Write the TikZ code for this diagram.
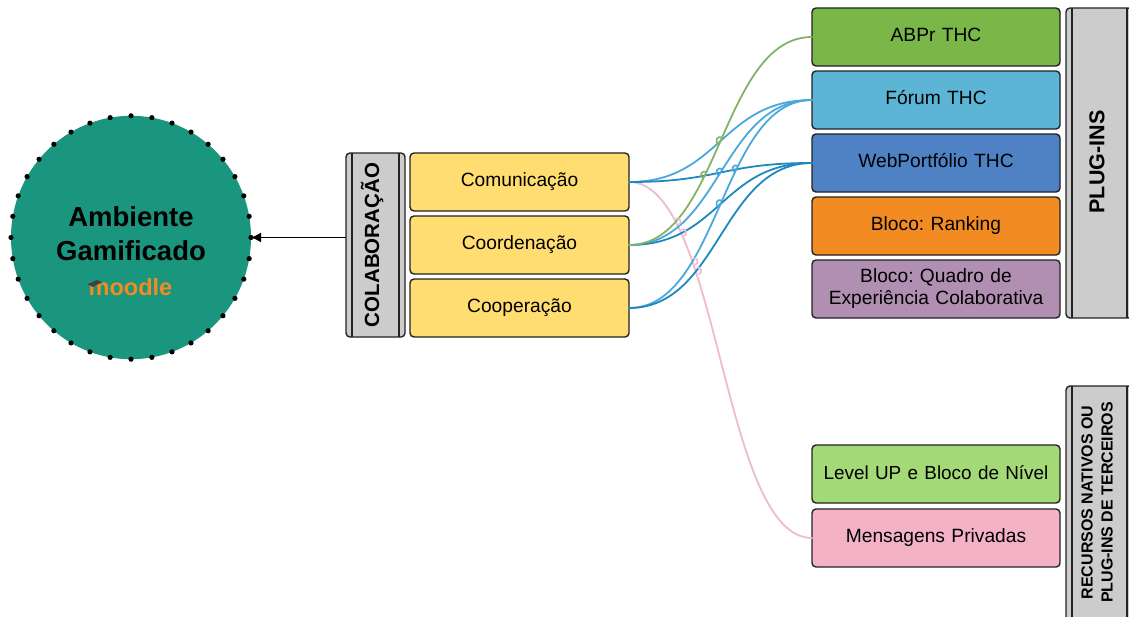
\documentclass[tikz,border=0pt]{standalone}
\usepackage{fontspec}
\setmainfont{Liberation Sans}
\frenchspacing
\usetikzlibrary{arrows.meta,calc,shapes.geometric}
\definecolor{ggreen}{HTML}{19967D}
\definecolor{cgreen}{HTML}{7AB648}
\definecolor{cblue}{HTML}{5DB5D5}
\definecolor{cweb}{HTML}{4F82C4}
\definecolor{corange}{HTML}{F28C22}
\definecolor{cpurple}{HTML}{B08FB2}
\definecolor{clime}{HTML}{A3D977}
\definecolor{cpink}{HTML}{F4B2C7}
\definecolor{cyellow}{HTML}{FFDD71}
\definecolor{cgray}{HTML}{CCCCCC}
\definecolor{lgreen}{HTML}{82B366}
\definecolor{lblue}{HTML}{4AA8DC}
\definecolor{ldark}{HTML}{1F88BE}
\definecolor{lpink}{HTML}{EDBCD0}
\definecolor{edge}{HTML}{222222}
\newcommand{\lift}[1]{\raisebox{3.5pt}{#1}}
\newcommand{\liftb}[1]{\raisebox{4.5pt}{#1}}
\tikzset{
  x=1pt,y=-1pt,
  boxbase/.style={draw=edge,line width=1.4pt,rounded corners=4pt,anchor=north west,inner sep=0pt,outer sep=0pt,align=center,font=\fontsize{19.2}{23}\selectfont},
  rightbox/.style={boxbase,minimum width=248pt,minimum height=58pt,text width=240pt},
  leftbox/.style={boxbase,fill=cyellow,minimum width=219pt,minimum height=58pt},
  lane/.style={draw=edge,line width=1.4pt,rounded corners=4pt,fill=cgray,anchor=north west,inner sep=0pt,outer sep=0pt},
  lanetext/.style={rotate=90,align=center},
  inner/.style={draw=edge,line width=1.1pt},
  curve/.style={line width=1.8pt,line cap=round},
  gline/.style={curve,draw=lgreen},
  bline/.style={curve,draw=lblue},
  dline/.style={curve,draw=ldark},
  pline/.style={curve,draw=lpink},
  link/.style={out=0,in=180,distance=91pt},
  hop/.style={line width=1.6pt},
}
\newcommand{\hopat}[3]{\draw[hop,#1] (#2) ++(#3+180:3.6pt) arc[start angle=#3+180,end angle=#3,radius=3.6pt];}
\begin{document}
\begin{tikzpicture}
\clip (0,0) rectangle (1129,616);
\fill[white] (0,0) rectangle (1129,616);
% circle
\node[ellipse,fill=ggreen,minimum width=240pt,minimum height=243.4pt,inner sep=0pt,outer sep=0pt] (env) at (131,237.5) {};
\foreach \a in {0,10,...,350}{\fill[black] ($(env.center)+(\a:120pt and 121.7pt)$) circle (2.6pt);}
\node[font=\fontsize{27.5}{34}\selectfont\bfseries,align=center] (envt) at (131,234) {Ambiente\\Gamificado};
\node[font=\fontsize{23.5}{24}\selectfont\bfseries,text=corange,inner sep=0pt] (mood) at (130.5,287) {moodle};
\fill[black!75] (87.5,284) -- (97,280) -- (102,282) -- (93,287) -- cycle;
% lanes
\node[lane,minimum width=59pt,minimum height=184pt] (colab) at (346,153) {};
\node[lanetext,font=\fontsize{20.5}{24}\selectfont\bfseries] (colabt) at (372,245) {COLABORAÇÃO};
\draw[inner] ([xshift=6pt]colab.north west) -- ([xshift=6pt]colab.south west);
\draw[inner] ([xshift=-6pt]colab.north east) -- ([xshift=-6pt]colab.south east);
\node[lane,minimum width=66pt,minimum height=310pt] (plug) at (1066,8) {};
\node[lanetext,font=\fontsize{21.5}{24}\selectfont\bfseries] (plugt) at (1097,162) {PLUG-INS};
\draw[inner] ([xshift=6pt]plug.north west) -- ([xshift=6pt]plug.south west);
\draw[inner] ([xshift=-5pt]plug.north east) -- ([xshift=-5pt]plug.south east);
\node[lane,minimum width=66pt,minimum height=240pt] (nat) at (1066,386) {};
\node[lanetext,font=\fontsize{16}{20}\selectfont\bfseries] (natt) at (1097,502.5) {RECURSOS NATIVOS OU\\PLUG-INS DE TERCEIROS};
\draw[inner] ([xshift=6pt]nat.north west) -- ([xshift=6pt]nat.south west);
\draw[inner] ([xshift=-5pt]nat.north east) -- ([xshift=-5pt]nat.south east);
% left boxes
\node[leftbox] (com) at (410,153) {\lift{Comunicação}};
\node[leftbox] (coo) at (410,216) {\lift{Coordenação}};
\node[leftbox] (cop) at (410,279) {\lift{Cooperação}};
% right boxes
\node[rightbox,fill=cgreen] (abpr) at (812,8) {\lift{ABPr THC}};
\node[rightbox,fill=cblue] (forum) at (812,71) {\liftb{Fórum THC}};
\node[rightbox,fill=cweb] (web) at (812,134) {\liftb{WebPortfólio THC}};
\node[rightbox,fill=corange] (rank) at (812,197) {\lift{Bloco: Ranking}};
\node[rightbox,fill=cpurple,font=\fontsize{19.2}{22.5}\selectfont] (quad) at (812,260) {\liftb{Bloco: Quadro de}\\\liftb{Experiência Colaborativa}};
\node[rightbox,fill=clime,font=\fontsize{18.9}{23}\selectfont] (lvl) at (812,445) {\lift{Level UP e Bloco de Nível}};
\node[rightbox,fill=cpink] (msg) at (812,509) {\lift{Mensagens Privadas}};
% connectors
\draw[-{Latex[length=10pt,width=10pt]},line width=1.4pt,black] (env.east -| colab.west) -- (env.east);
\draw[pline] (com.east) to[link] (msg.west);
\draw[bline] (com.east) to[link] (forum.west);
\draw[dline] (com.east) to[link] (web.west);
\draw[bline] (coo.east) to[link] (forum.west);
\draw[dline] (coo.east) to[link] (web.west);
\draw[bline] (cop.east) to[link] (forum.west);
\draw[dline] (cop.east) to[link] (web.west);
\draw[gline] (coo.east) to[link] (abpr.west);
% line hops
\hopat{lgreen}{720,140.5}{66}
\hopat{lgreen}{704.5,175}{64}
\hopat{lblue}{720,172}{58}
\hopat{lblue}{736,168.8}{64}
\hopat{lblue}{720,203.5}{66}
\hopat{lpink}{677,221.8}{-67}
\hopat{lpink}{682.5,232.8}{-67}
\hopat{lpink}{694,261.5}{-70}
\hopat{lpink}{697.6,271}{-72}
\end{tikzpicture}
\end{document}
